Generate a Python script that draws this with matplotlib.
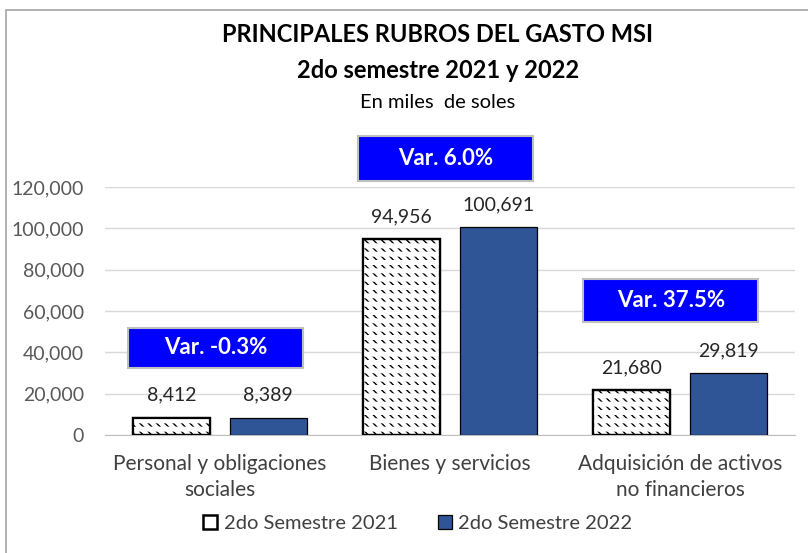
import matplotlib
matplotlib.use("Agg")
import matplotlib.pyplot as plt
from matplotlib.patches import Rectangle, Patch
import matplotlib.colors as mcolors
import numpy as np

categories = ["Personal y obligaciones\nsociales", "Bienes y servicios",
              "Adquisición de activos\nno financieros"]
s2021 = [8412, 94956, 21680]
s2022 = [8389, 100691, 29819]
series_names = ["2do Semestre 2021", "2do Semestre 2022"]
yticks = [0, 20000, 40000, 60000, 80000, 100000, 120000]

BLUE = "#2F5597"
NAVY = "#2F4F8F"
BOXBLUE = "#0000FF"
TICKGRAY = "#595959"
LABGRAY = "#404040"
GRID = "#D9D9D9"

plt.rcParams["font.family"] = ["Lato", "DejaVu Sans"]
plt.rcParams["hatch.color"] = NAVY
plt.rcParams["hatch.linewidth"] = 1.0

fig = plt.figure(figsize=(8.08, 5.53), dpi=100)
ax = fig.add_axes([0.130, 0.2134, 0.854, 0.4484])

x = np.arange(len(categories))
w = 0.335
off = 0.21
b1 = ax.bar(x - off, s2021, w, color="white", edgecolor="black", linewidth=1.6,
            hatch="\\\\\\\\", zorder=3, label=series_names[0])
# white horizontal bands break the diagonal lines into rows of short dashes
mask = ax.bar(x - off, s2021, w, color="none", edgecolor="none", linewidth=0,
              hatch="--", zorder=3.5)
for p in mask:
    p._hatch_color = mcolors.to_rgba("white")
    if hasattr(p, "set_hatch_linewidth"):
        p.set_hatch_linewidth(3.6)
    else:
        p.set_hatch(None)
b2 = ax.bar(x + off, s2022, w, color=BLUE, edgecolor="black", linewidth=0.9,
            zorder=3, label=series_names[1])
# redraw outline of hatched bars on top
ax.bar(x - off, s2021, w, color="none", edgecolor="black", linewidth=1.6, zorder=4)

for bars in (b1, b2):
    for b in bars:
        ax.annotate(f"{b.get_height():,.0f}", (b.get_x() + b.get_width() / 2, b.get_height()),
                    xytext=(0, 10), textcoords="offset points", ha="center", va="bottom",
                    fontsize=14, color="#262626")

ax.set_xlim(-0.5, 2.5)
ax.set_ylim(0, 120000)
ax.set_yticks(yticks)
ax.set_yticklabels([f"{v:,}" for v in yticks], fontsize=14, color=TICKGRAY)
ax.set_xticks(x)
ax.set_xticklabels(categories, fontsize=15, color=LABGRAY, linespacing=1.35)
ax.tick_params(axis="y", length=0, pad=15)
ax.tick_params(axis="x", length=0, pad=14)
for s in ("top", "right", "left"):
    ax.spines[s].set_visible(False)
ax.spines["bottom"].set_color("#BFBFBF")
ax.grid(axis="y", color=GRID, linewidth=1)
ax.set_axisbelow(True)

# variation boxes
box_y = [32400, 122900, 54700]
box_h = [19400, 21800, 20800]
for i in range(len(categories)):
    var = s2022[i] / s2021[i] - 1
    cx = x[i] - 0.02 if i < 2 else x[i] - 0.04
    ax.add_patch(Rectangle((cx - 0.38, box_y[i]), 0.76, box_h[i], facecolor=BOXBLUE,
                           edgecolor="#BFBFBF", linewidth=1.5, clip_on=False, zorder=5))
    ax.text(cx, box_y[i] + box_h[i] / 2, f"Var. {var * 100:.1f}%", ha="center", va="center",
            color="white", fontsize=16, fontweight="bold", zorder=6, clip_on=False)

h1 = Patch(facecolor="white", edgecolor="black", linewidth=1.8)
h2 = Patch(facecolor=BLUE, edgecolor="black", linewidth=0.9)
fig.legend(handles=[h1, h2], labels=series_names, loc="center", bbox_to_anchor=(0.517, 0.053),
           ncol=2, frameon=False, fontsize=14.5, handlelength=0.7, handleheight=0.7,
           handletextpad=0.3, columnspacing=2.0, labelcolor=LABGRAY)

fig.text(0.542, 0.937, "PRINCIPALES RUBROS DEL GASTO MSI", ha="center", va="center",
         fontsize=17, fontweight="bold", color="black")
fig.text(0.542, 0.873, "2do semestre 2021 y 2022", ha="center", va="center",
         fontsize=17, fontweight="bold", color="black")
fig.text(0.542, 0.815, "En miles  de soles", ha="center", va="center",
         fontsize=14.5, color="black")

# outer chart frame (partially cropped in the reference)
fig.add_artist(Rectangle((6 / 808, -0.05), 1.2, 1 - 10 / 553 + 0.05, transform=fig.transFigure,
                         fill=False, edgecolor="#A6A6A6", linewidth=1.2))

fig.savefig("out.png", dpi=100)
